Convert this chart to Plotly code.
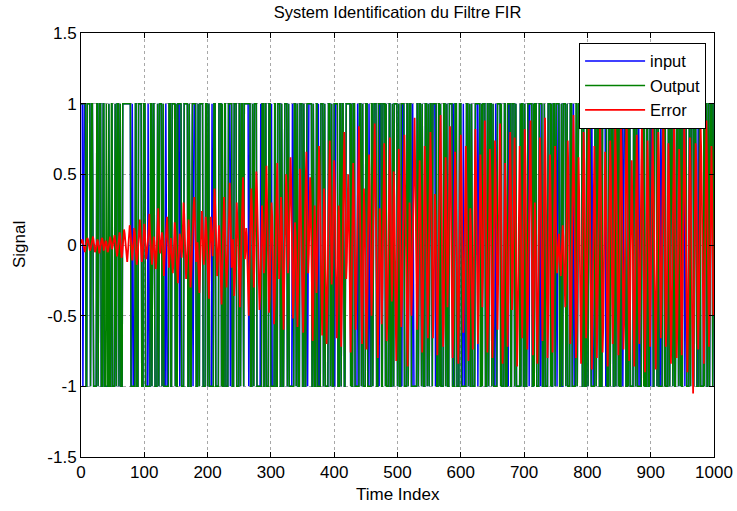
import numpy as np
import plotly.graph_objects as go

# Binary sequences, one character per time index: '1' -> +1, '0' -> -1
# (spaces only separate runs for readability)
input_bits = """
111 0 1111 00 11111 0 111 000000 11 0 1111 000 11 0000000 1 000 11
0000 1 00 111 0 11 000 1111111111111 00 1 0000 11 000 1 1111 000 1
11 0000 1 000 11 0 111 00000 1 00 1111 0 11 000 1 0000 111 00 11111 0
1 00 111 0 11 0000 111111 00 1 000 11 0 1111 000 1 00 11111 0 000 111
0 11 0000 1 00 111 00000 1111 0 1 000 11 0000 111 0 11 000 1111 0000
11 0 111 00 1111111 0 11 000 1 00 1111 000000 1 0 111 00 11 0000 111
0 1 0000 11 000 1111 00 1 000 11111 0 11 00000 1 00 111 0 11 000 1111
00 1 000 11 0 111111 00 1 0000 11 0 1 000 1111 0 11 00000 111 0 11 000
1 0 1111 000 11 0 111 000 11111111 0 1 00 111 0000 1 00 111 0 11 0000
111 00 1 000 11 0 11111 000 1 0 111 00 1111 0 1 0000 11 000 1 00 11111
0 11 000 1 0 111 0000 11 0 1111 00 1 000000 11 0 111 00 1 0000 111 0 11
0 111 00 1111 0 1 000 11 0 1 0000 111 0 11 000 11111 0 1 00 111 0000 1
11 000 1 0000 111 0 11 00 1 00000 1111 0 111 00 1 0 1111 000 11 0 1111
0 11 000 1 00 11111 0 1 0000 11 000 1 0 111 00 1111 0 11 000000 1 0 111
00 1 000 111 0 1111 00 1 0 111 0000 11 0 11 000 1 00000 1111 0 1 00 111
0 11 0 111 000 1 00 1111 0 11 0000 111 00 1 000 11 0 1111111 00 1 0000
11 0 111 00 1 0000 11 0 111 000 1 00 11111 0 1 000 11 0 1111 00 1 00 111
0 1 000 11 0 1111 000 1 0 11 00000 111 0 11 00 1 0000 111 0 1 000 11 000
1 0 111 00 1111 0 11 000 1 00 111 0 1 0000 11 0 111 00 1 000 1111 0 11 0 1
00 111 0 11 0000 1 00 1111 0 111 000 1 0 11 00000 1 0 111 00 11 0 1111 0 11
"""
output_bits = """
111 1 1111 00 11111 0 111 000000 11 0 1111 000 11 0001000 1 000 11
0000 1 00 111 0 11 000 1111111111111 00 0 0000 11 000 1 1111 000 1
11 0000 0 000 11 0 111 00000 1 00 1111 0 11 000 0 0000 111 00 11111 0
1 00 111 1 11 0000 111111 00 1 000 11 1 1111 000 1 00 11111 0 000 111
0 11 0000 0 00 111 00000 1111 0 1 000 11 0000 111 1 11 000 1111 0000
11 0 111 00 1111111 1 11 000 1 00 1111 000000 0 0 111 00 11 0000 111
0 0 0000 11 000 1111 00 1 000 11111 0 11 00000 0 00 111 0 11 000 1111
00 1 000 11 1 111111 00 1 0000 11 0 0 000 1111 0 11 00000 111 0 11 000
1 1 1111 000 11 0 111 000 11111111 0 1 00 111 0000 0 00 111 0 11 0000
111 00 0 000 11 0 11111 000 1 1 111 00 1111 0 1 0000 11 000 1 00 11111
0 11 000 1 1 111 0000 11 0 1111 00 0 000000 11 0 111 00 1 0000 111 0 11
0 111 00 1111 1 1 000 11 0 1 0000 111 0 11 000 11111 0 0 00 111 0000 1
11 000 0 0000 111 0 11 00 1 00000 1111 1 111 00 1 0 1111 000 11 0 1111
0 11 000 0 00 11111 0 1 0000 11 000 1 1 111 00 1111 0 11 000000 1 0 111
00 1 000 111 1 1111 00 1 0 111 0000 11 1 11 000 1 00000 1111 0 1 00 111
0 11 1 111 000 1 00 1111 0 11 0000 111 00 0 000 11 0 1111111 00 1 0000
11 0 111 00 0 0000 11 0 111 000 1 00 11111 1 1 000 11 0 1111 00 1 00 111
0 1 000 11 1 1111 000 1 0 11 00000 111 0 11 00 0 0000 111 0 1 000 11 000
1 1 111 00 1111 0 11 000 0 00 111 0 1 0000 11 0 111 00 1 000 1111 0 11 0 1
00 111 1 11 0000 1 00 1111 0 111 000 0 0 11 00000 1 0 111 00 11 0 1111 0 11
"""
# Error signal in hundredths, one value per time index
error_hundredths = """
1 3 4 2 -1 -3 -5 -2 0 2 5 4 1 -2 -4 -3 -1 2 3 6 3 -1 -5 -4 -2 1 4 2 -2 -6 -3 0 3 5 4 -1 -4 -2 1 3 2 -3 -5 -4 0 4 6 3 -2 -3
-1 2 5 7 3 -2 -6 -8 -4 1 6 9 5 -3 -9 -7 -2 4 11 8 2 -5 -10 -12 -6 3 8 14 10 2 -6 -11 -4 5 12 9 1 -8 -14 -10 -3 6 13 18 7 -4 -12 -9 2 10
15 8 -3 -10 -6 -2 4 12 22 9 -1 -5 -14 -9 3 6 2 -8 -17 -11 0 10 26 14 -3 -6 -2 4 9 5 -12 -22 -10 -1 7 13 20 6 -4 -16 -8 2 5 -3 -9 -20 -13 3 16 11
4 -6 -18 -27 -12 2 8 5 -4 -9 -3 14 30 22 6 -10 -24 -16 -2 10 18 9 -8 -30 -21 -5 4 12 28 34 15 -3 -12 -7 2 -10 -26 -34 -18 0 16 24 10 -4 -14 -6 8 20 12 -2
-16 -32 -38 -14 6 20 12 -2 -8 4 26 40 28 10 -6 -22 -12 0 14 8 -10 -28 -42 -20 -4 12 34 18 2 -12 -30 -18 -6 8 22 44 30 6 -16 -8 4 -14 -36 -26 -10 10 30 18 -4 -12
-24 -44 -30 -6 14 36 48 24 4 -10 -2 12 6 -18 -40 -50 -22 2 22 40 26 8 -14 -30 -12 6 32 52 38 10 -8 -26 -46 -34 -6 16 28 14 -4 -20 -10 18 44 56 30 -2 -28 -48 -36 -8
12 30 20 -6 -34 -56 -40 -10 18 46 58 26 -4 -24 -14 8 34 22 -12 -44 -60 -30 -2 24 50 36 8 -20 -10 14 40 62 44 6 -28 -52 -38 -12 16 6 -8 -36 -58 -26 4 32 54 30 -6 -18
-40 -62 -44 -8 26 52 66 34 2 -20 -6 22 48 30 -10 -46 -68 -38 -4 28 14 -12 -34 -20 16 44 70 50 12 -24 -56 -64 -30 8 40 26 -6 -42 -70 -48 -14 22 58 74 40 2 -28 -16 10 36
60 38 -4 -38 -66 -46 -10 28 16 -14 -48 -72 -40 0 34 62 80 44 8 -24 -12 16 50 30 -18 -58 -76 -44 -6 30 58 36 4 -30 -60 -36 -8 24 66 84 48 10 -26 -54 -70 -32 6 40 22 -10
-44 -74 -52 -12 30 64 44 14 -20 -50 -30 6 42 70 86 46 4 -32 -62 -80 -40 -2 26 12 -22 -56 -34 8 48 72 40 2 -36 -68 -52 -14 28 60 76 38 -4 -40 -24 12 52 34 -10 -58 -82 -46
-8 36 68 48 8 -28 -58 -40 -6 24 54 78 42 2 -34 -70 -86 -48 -10 30 18 -16 -50 -30 10 46 74 90 52 6 -30 -60 -38 -4 32 60 40 -8 -46 -76 -54 -12 26 70 48 12 -22 -52 -66 -28
14 50 80 56 10 -32 -66 -44 -8 36 20 -14 -54 -78 -42 0 40 72 92 50 6 -36 -72 -56 -14 28 62 38 -6 -44 -20 18 58 84 46 4 -38 -80 -60 -16 30 66 46 8 -28 -64 -84 -40 4 44
78 52 12 -30 -62 -36 2 42 70 34 -8 -52 -82 -58 -14 26 14 -18 -60 -74 -38 6 48 82 56 10 -34 -70 -46 -6 36 64 40 -2 -44 -22 16 56 88 50 4 -40 -76 -54 -12 32 68 44 -6 -48
-80 -56 -10 38 74 50 8 -36 -60 -24 20 62 86 48 2 -42 -84 -62 -16 30 58 34 -10 -50 -72 -32 14 54 80 44 -4 -46 -30 10 52 76 38 -8 -54 -86 -58 -12 34 70 46 6 -38 -66 -40 2
46 82 58 12 -34 -74 -52 -6 40 72 88 42 -4 -50 -78 -40 8 30 12 -26 -64 -84 -46 0 44 76 52 10 -38 -68 -30 16 60 90 54 6 -44 -80 -56 -14 36 64 30 -16 -58 -76 -36 10 50 70
24 -6 -20 -12 2 8 -4 -16 -22 -10 4 14 6 -8 -28 -44 -24 6 40 74 50 8 -36 -70 -56 -12 34 78 92 48 2 -42 -80 -60 -16 30 62 36 -6 -50 -84 -44 4 48 80 58 12 -32 -66 -40
6 52 86 60 14 -30 -72 -88 -50 -4 42 70 38 -8 -54 -80 -46 2 46 82 90 52 6 -40 -76 -58 -14 30 66 42 -2 -48 -86 -60 -10 38 74 54 8 -36 -70 -44 4 50 84 62 16 -28 -68 -78
-42 4 48 88 64 18 -30 -74 -56 -10 36 70 94 52 8 -38 -82 -62 -16 32 60 30 -14 -58 -86 -48 0 44 78 56 10 -34 -70 -40 6 52 86 58 12 -32 -78 -90 -50 -2 40 74 48 4 -44 -72
-36 8 54 84 56 12 -34 -76 -88 -46 2 46 80 60 14 -30 -66 -40 6 50 92 64 18 -28 -72 -54 -8 38 72 44 -4 -50 -84 -58 -12 34 76 88 48 2 -42 -80 -60 -14 30 68 40 -6 -52 -78
-44 2 48 86 60 14 -32 -70 -90 -52 -6 40 76 50 4 -46 -78 -105 -60 -12 34 72 58 12 -36 -74 -48 0 44 82 62 18 -28 -66 -84 -44 6 52 88 54 10 -38 -72 -50 -4 42 70 36 -20 -50
"""

input_sig = np.array([1.0 if c == "1" else -1.0 for c in input_bits if c in "01"])
output_sig = np.array([1.0 if c == "1" else -1.0 for c in output_bits if c in "01"])
error_sig = np.array([int(v) / 100.0 for v in error_hundredths.split()])

x_ticks = [0, 100, 200, 300, 400, 500, 600, 700, 800, 900, 1000]
y_ticks = [-1.5, -1, -0.5, 0, 0.5, 1, 1.5]
y_tick_text = ["-1.5", "-1", "-0.5", "0", "0.5", "1", "1.5"]

fig = go.Figure()
fig.add_trace(go.Scatter(x=np.arange(len(input_sig)), y=input_sig, mode="lines",
                         name="input", line=dict(color="#0000FF", width=1.5)))
fig.add_trace(go.Scatter(x=np.arange(len(output_sig)), y=output_sig, mode="lines",
                         name="Output", line=dict(color="#008000", width=1.5)))
fig.add_trace(go.Scatter(x=np.arange(len(error_sig)), y=error_sig, mode="lines",
                         name="Error", line=dict(color="#FF0000", width=1.8)))

font_family = "Liberation Sans, Arial, sans-serif"
fig.update_layout(
    width=737, height=511,
    margin=dict(l=81, r=23, t=33, b=54),
    paper_bgcolor="white", plot_bgcolor="white",
    font=dict(family=font_family, size=17, color="black"),
    title=dict(text="System Identification du Filtre FIR", x=0.5, xref="paper",
               y=1 - 12 / 511, yref="container", yanchor="middle",
               font=dict(size=16.5, family=font_family, color="black")),
    showlegend=True,
    legend=dict(x=0.9875, y=0.977, xanchor="right", yanchor="top",
                bgcolor="white", bordercolor="black", borderwidth=1,
                font=dict(size=16.5, family=font_family), itemwidth=60,
                tracegroupgap=0),
    xaxis=dict(range=[0, 1000], tickvals=x_ticks, ticktext=[str(v) for v in x_ticks],
               showgrid=True, gridcolor="#a8a8a8", gridwidth=1, griddash="dot",
               showline=True, linecolor="black", linewidth=1, mirror="allticks",
               ticks="inside", ticklen=5, tickcolor="black", zeroline=False,
               tickfont=dict(size=17), automargin=False),
    yaxis=dict(range=[-1.5, 1.5], tickvals=y_ticks, ticktext=y_tick_text,
               showgrid=True, gridcolor="#a8a8a8", gridwidth=1, griddash="dot",
               showline=True, linecolor="black", linewidth=1, mirror="allticks",
               ticks="inside", ticklen=5, tickcolor="black", zeroline=False,
               tickfont=dict(size=17), automargin=False),
    annotations=[
        dict(text="Time Index", xref="paper", yref="paper", x=0.5, y=-(495 - 457) / 424,
             xanchor="center", yanchor="middle", showarrow=False,
             font=dict(size=17, family=font_family, color="black")),
        dict(text="Signal", xref="paper", yref="paper", x=-(81 - 19) / 633, y=0.5,
             xanchor="center", yanchor="middle", showarrow=False, textangle=-90,
             font=dict(size=17, family=font_family, color="black")),
    ],
)

fig.write_html("out.html", config={"displayModeBar": False},
               post_script="document.body.style.margin='0px';")
